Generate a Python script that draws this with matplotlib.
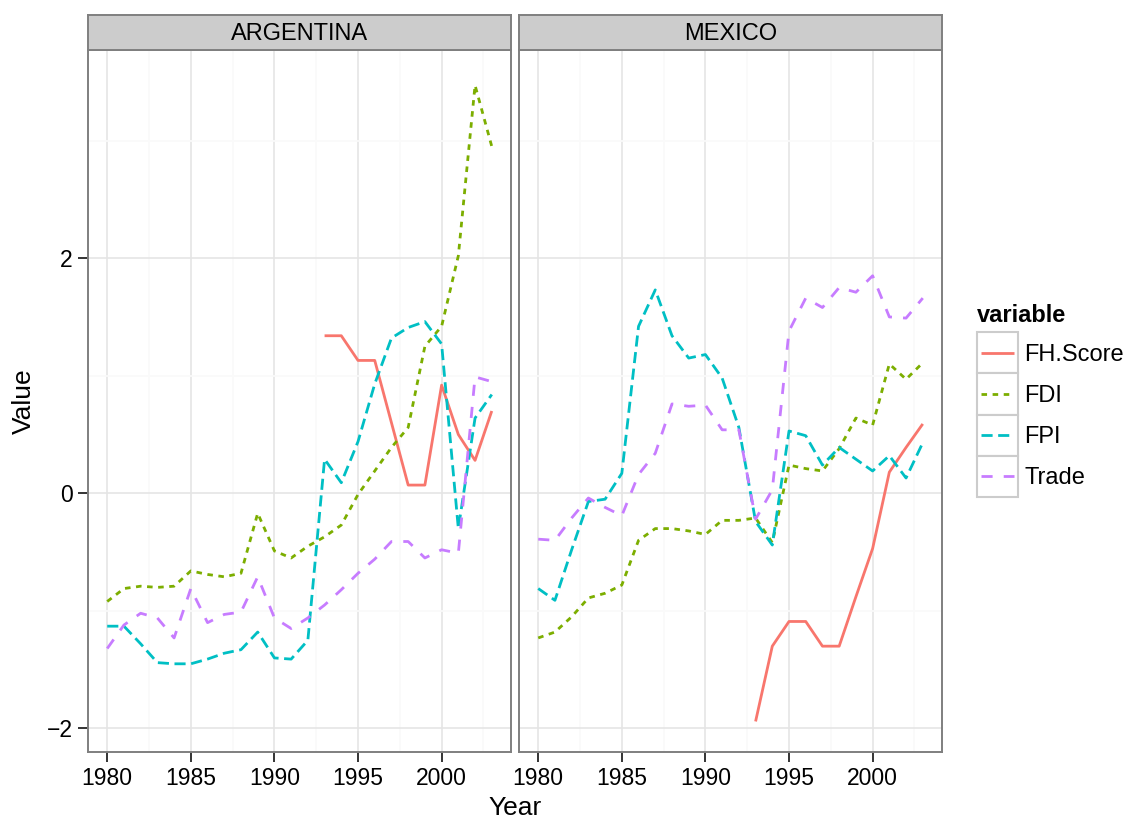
import numpy as np
import matplotlib
matplotlib.use("Agg")
import matplotlib.pyplot as plt
from matplotlib.patches import Rectangle

plt.rcParams['font.family'] = ['Liberation Sans', 'DejaVu Sans']

# data
years = np.arange(1980, 2004)
fh_years = np.arange(1993, 2004)

arg_fh = [1.34, 1.34, 1.13, 1.13, 0.60, 0.07, 0.07, 0.92, 0.50, 0.28, 0.70]
arg_fdi = [-0.92, -0.81, -0.79, -0.80, -0.79, -0.66, -0.69, -0.71, -0.68, -0.17, -0.49, -0.55,
           -0.45, -0.37, -0.27, -0.01, 0.19, 0.39, 0.56, 1.25, 1.42, 2.02, 3.47, 2.95]
arg_fpi = [-1.13, -1.13, -1.28, -1.44, -1.45, -1.45, -1.41, -1.36, -1.33, -1.18, -1.40, -1.41,
           -1.25, 0.29, 0.09, 0.44, 0.93, 1.32, 1.41, 1.46, 1.27, -0.30, 0.64, 0.84]
arg_trade = [-1.32, -1.12, -1.02, -1.06, -1.23, -0.81, -1.10, -1.03, -1.01, -0.71, -1.06, -1.15,
             -1.06, -0.95, -0.82, -0.68, -0.56, -0.41, -0.41, -0.55, -0.48, -0.51, 0.99, 0.95]

mex_fh = [-1.94, -1.30, -1.09, -1.09, -1.30, -1.30, -0.88, -0.47, 0.18, 0.39, 0.59]
mex_fdi = [-1.23, -1.18, -1.05, -0.89, -0.85, -0.78, -0.40, -0.30, -0.30, -0.32, -0.35, -0.23,
           -0.23, -0.21, -0.42, 0.24, 0.21, 0.19, 0.38, 0.64, 0.58, 1.10, 0.97, 1.11]
mex_fpi = [-0.81, -0.91, -0.48, -0.07, -0.05, 0.17, 1.42, 1.73, 1.34, 1.15, 1.18, 0.98,
           0.56, -0.24, -0.44, 0.53, 0.49, 0.24, 0.39, 0.29, 0.19, 0.32, 0.13, 0.43]
mex_trade = [-0.39, -0.40, -0.21, -0.04, -0.12, -0.19, 0.16, 0.34, 0.76, 0.74, 0.75, 0.54,
             0.54, -0.22, 0.03, 1.38, 1.66, 1.58, 1.75, 1.71, 1.85, 1.50, 1.49, 1.66]

variables = ['FH.Score', 'FDI', 'FPI', 'Trade']
colors = ['#F8766D', '#7CAE00', '#00BFC4', '#C77CFF']
dash_list = [None, (2, 2), (4, 2), (4, 4)]

panels = [
    ('ARGENTINA', 88, 511, [(fh_years, arg_fh), (years, arg_fdi), (years, arg_fpi), (years, arg_trade)]),
    ('MEXICO', 519, 942, [(fh_years, mex_fh), (years, mex_fdi), (years, mex_fpi), (years, mex_trade)]),
]

W, H = 1128, 818
fig = plt.figure(figsize=(W / 100, H / 100), dpi=100)


def px_axes(x0, y0, x1, y1):
    return fig.add_axes([x0 / W, 1 - y1 / H, (x1 - x0) / W, (y1 - y0) / H])


border = '#7F7F7F'
lw = 2.0

for i, (name, x0, x1, series) in enumerate(panels):
    ax = px_axes(x0, 50, x1, 752)
    for (xs, ys), col, d in zip(series, colors, dash_list):
        if d is None:
            ax.plot(xs, ys, color=col, lw=lw, solid_capstyle='butt')
        else:
            ax.plot(xs, ys, color=col, lw=lw, dashes=d)
    ax.set_xlim(1978.85, 2004.15)
    ax.set_ylim(-2.2, 3.77)
    ax.set_xticks([1980, 1985, 1990, 1995, 2000])
    ax.set_xticks(np.arange(1982.5, 2004, 5), minor=True)
    ax.set_yticks([-2, 0, 2])
    ax.set_yticks([-1, 1, 3], minor=True)
    ax.grid(which='major', color='#E5E5E5', lw=1.2)
    ax.grid(which='minor', color='#FAFAFA', lw=1.2)
    ax.set_axisbelow(True)
    ax.tick_params(which='minor', length=0)
    ax.tick_params(which='major', labelsize=16.5, length=7, width=1.4, color='#333333',
                   labelcolor='black', pad=4)
    if i > 0:
        ax.tick_params(axis='y', length=0, labelleft=False)
    for sp in ax.spines.values():
        sp.set_color(border)
        sp.set_linewidth(1.4)

    strip = px_axes(x0, 15, x1, 50)
    strip.set_facecolor('#CCCCCC')
    strip.set_xticks([])
    strip.set_yticks([])
    for sp in strip.spines.values():
        sp.set_color(border)
        sp.set_linewidth(1.4)
    strip.text(0.5, 0.45, name, ha='center', va='center', fontsize=17, transform=strip.transAxes)

fig.text(515 / W, 1 - 815 / H, 'Year', ha='center', va='baseline', fontsize=19)
fig.text(24 / W, 1 - 401 / H, 'Value', ha='center', va='center', rotation=90, fontsize=19)

# legend
fig.text(977 / W, 1 - 322 / H, 'variable', ha='left', va='baseline', fontsize=17, fontweight='bold')
lax = px_axes(977, 332, 1018, 497)
lax.set_xlim(0, 1)
lax.set_ylim(4, 0)
lax.axis('off')
for k, (name, col, d) in enumerate(zip(variables, colors, dash_list)):
    lax.add_patch(Rectangle((0, k), 1, 1, facecolor='white', edgecolor='#CCCCCC', lw=1.5, clip_on=False))
    if d is None:
        lax.plot([0.1, 0.9], [k + 0.5, k + 0.5], color=col, lw=lw, solid_capstyle='butt')
    else:
        lax.plot([0.1, 0.9], [k + 0.5, k + 0.5], color=col, lw=lw, dashes=d)
    lax.text(1.15, k + 0.5 + 8 / 41.25, name, ha='left', va='baseline', fontsize=17, clip_on=False)

plt.savefig("out.png", dpi=100)
plt.close()
